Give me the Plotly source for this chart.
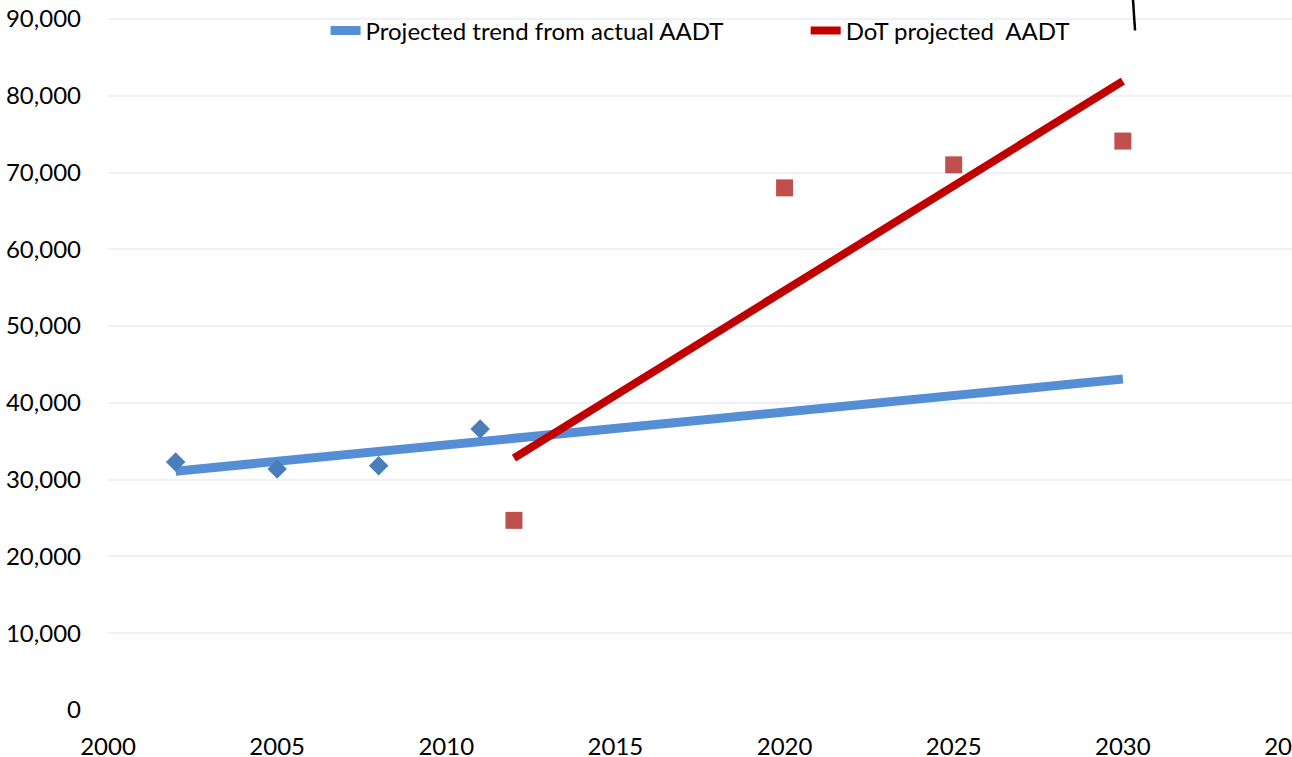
import plotly.graph_objects as go

# observed AADT counts
actual_years = [2002, 2005, 2008, 2011]
actual_aadt = [32300, 31400, 31800, 36600]

# DoT projections
dot_years = [2012, 2020, 2025, 2030]
dot_aadt = [24700, 68000, 71000, 74100]

# trend line end points
trend_years = [2002, 2030]
trend_aadt = [31100, 43100]

dot_trend_years = [2012, 2030]
dot_trend_aadt = [32800, 81900]

# stray connector line at the top right
stray_years = [2030.3, 2030.36]
stray_aadt = [92500, 88500]

FONT = "Lato, 'Open Sans', sans-serif"
GRID = "#EEF2F8"

fig = go.Figure()

fig.add_trace(go.Scatter(
    x=trend_years, y=trend_aadt, mode="lines",
    name="Projected trend from actual AADT",
    line=dict(color="#558ED5", width=9),
    legend="legend",
))
fig.add_trace(go.Scatter(
    x=dot_trend_years, y=dot_trend_aadt, mode="lines",
    name="DoT projected  AADT",
    line=dict(color="#C00000", width=8),
    legend="legend2",
))
fig.add_trace(go.Scatter(
    x=actual_years, y=actual_aadt, mode="markers",
    marker=dict(symbol="diamond", size=15, color="#4A7EBB"),
    showlegend=False,
))
fig.add_trace(go.Scatter(
    x=dot_years, y=dot_aadt, mode="markers",
    marker=dict(symbol="square", size=17, color="#C0504D"),
    showlegend=False,
))
fig.add_trace(go.Scatter(
    x=stray_years, y=stray_aadt, mode="lines",
    line=dict(color="black", width=2.5),
    showlegend=False, hoverinfo="skip",
))

legend_style = dict(
    orientation="h", xref="container", yref="container",
    xanchor="left", y=0.989, yanchor="top",
    bgcolor="rgba(0,0,0,0)", font=dict(size=24),
)

fig.update_layout(
    width=1292, height=757,
    paper_bgcolor="white", plot_bgcolor="white",
    font=dict(family=FONT, size=24, color="black"),
    margin=dict(l=108, r=0, t=0, b=47, autoexpand=False),
    legend=dict(legend_style, x=0.252),
    legend2=dict(legend_style, x=0.6236),
)
fig.update_xaxes(
    range=[2000, 2035], dtick=5, tick0=2000,
    showgrid=False, zeroline=False, showline=False,
    ticks="", ticklabelstandoff=20, automargin=False,
    ticklabeloverflow="allow",
)
fig.update_yaxes(
    range=[0, 92470], dtick=10000, tickformat=",d",
    showgrid=True, gridcolor=GRID, gridwidth=1.5,
    zeroline=False, showline=False,
    ticks="", ticklabelstandoff=26, automargin=False,
    ticklabeloverflow="allow",
)

# drop the default 8px page margin so the figure fills the window exactly
fig.write_html(
    "out.html",
    config={"displayModeBar": False},
    post_script="document.body.style.margin='0';"
                "document.body.style.overflow='hidden';",
)
